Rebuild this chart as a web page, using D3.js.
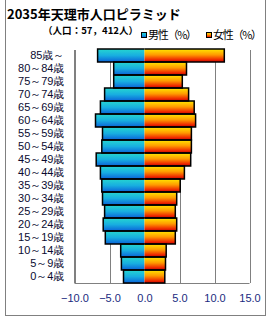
<!DOCTYPE html>
<html>
<head>
<meta charset="utf-8">
<script src="https://cdn.jsdelivr.net/npm/d3@7"></script>
<style>
  body { margin: 0; background: #fff; }
  svg { display: block; font-family: "Noto Sans CJK JP", sans-serif; }
</style>
</head>
<body>
<div id="chart"></div>
<script>
// age groups, top to bottom
var ageGroups = ["85歳～", "80～84歳", "75～79歳", "70～74歳", "65～69歳", "60～64歳",
  "55～59歳", "50～54歳", "45～49歳", "40～44歳", "35～39歳", "30～34歳",
  "25～29歳", "20～24歳", "15～19歳", "10～14歳", "5～9歳", "0～4歳"];
// share of each sex (%)
var maleValues = [6.7, 4.4, 4.4, 5.7, 6.3, 7.0, 6.0, 6.1, 6.9, 6.3, 6.1, 6.0, 5.7, 5.9, 5.6, 3.4, 3.3, 3.0];
var femaleValues = [11.4, 6.0, 5.4, 6.3, 7.1, 7.3, 6.7, 6.7, 6.6, 5.7, 5.1, 4.6, 4.4, 4.6, 4.4, 3.1, 3.0, 2.9];
var xTicks = [-10, -5, 0, 5, 10, 15];
var titleText = "2035年天理市人口ピラミッド";
var subTitleText = "（人口：57，412人）";
var legendLabels = ["男性（%）", "女性（%）"];

var width = 270, height = 320;
var plotLeft = 74.5, plotRight = 249.5, plotTop = 49, plotBottom = 283;

var svg = d3.select("#chart").append("svg")
  .attr("width", width)
  .attr("height", height);

// gradients
var defs = svg.append("defs");
function addGradient(id, stops) {
  var g = defs.append("linearGradient")
    .attr("id", id)
    .attr("x1", 0).attr("y1", 0).attr("x2", 0).attr("y2", 1);
  stops.forEach(function (s) {
    g.append("stop").attr("offset", s[0]).attr("stop-color", s[1]);
  });
}
addGradient("maleGrad", [[0, "#26d6d0"], [0.5, "#18aee0"], [1, "#0a62d8"]]);
addGradient("femaleGrad", [[0, "#ffe800"], [0.45, "#ff9a00"], [0.8, "#f03000"], [1, "#c80000"]]);

// outer frame
svg.append("rect")
  .attr("x", 5.5).attr("y", -1)
  .attr("width", 260).attr("height", 316.5)
  .attr("fill", "none")
  .attr("stroke", "#808080");

// scales
var x = d3.scaleLinear().domain([-10, 15]).range([plotLeft, plotRight]);
var y = d3.scaleBand().domain(ageGroups).range([plotTop, plotBottom]).padding(0);

// gridlines
svg.append("g")
  .selectAll("line")
  .data(xTicks)
  .enter()
  .append("line")
  .attr("x1", function (d) { return Math.round(x(d)) + 0.5; })
  .attr("x2", function (d) { return Math.round(x(d)) + 0.5; })
  .attr("y1", plotTop + 1)
  .attr("y2", plotBottom)
  .style("stroke", "#808080");
svg.append("line")
  .attr("x1", plotLeft).attr("x2", plotRight)
  .attr("y1", plotBottom + 0.5).attr("y2", plotBottom + 0.5)
  .style("stroke", "#808080");

// bars: fill first, then outline without the inner edge at 0
var x0 = x(0);
var bars = svg.append("g");
function drawBars(values, sign, grad) {
  bars.selectAll(null)
    .data(values)
    .enter()
    .append("rect")
    .attr("x", function (d) { return sign < 0 ? x(-d) : x0; })
    .attr("y", function (d, i) { return y(ageGroups[i]); })
    .attr("width", function (d) { return Math.abs(x(sign * d) - x0); })
    .attr("height", y.bandwidth())
    .attr("fill", "url(#" + grad + ")");
  bars.selectAll(null)
    .data(values)
    .enter()
    .append("path")
    .attr("d", function (d, i) {
      var p = d3.path();
      var yt = y(ageGroups[i]), yb = yt + y.bandwidth(), xe = x(sign * d);
      p.moveTo(x0, yt);
      p.lineTo(xe, yt);
      p.lineTo(xe, yb);
      p.lineTo(x0, yb);
      return p.toString();
    })
    .attr("fill", "none")
    .attr("stroke", "#000")
    .attr("stroke-width", 1.5);
}
drawBars(maleValues, -1, "maleGrad");
drawBars(femaleValues, 1, "femaleGrad");

// axes
var yAxis = d3.axisLeft(y).tickSize(0).tickPadding(10);
var yAxisGroup = svg.append("g")
  .attr("transform", "translate(" + plotLeft + ",0)")
  .call(yAxis);
yAxisGroup.select(".domain").remove();
yAxisGroup.selectAll("text")
  .style("font-size", "11px")
  .style("fill", "#0a0a30");
svg.append("line")
  .attr("x1", plotLeft).attr("x2", plotLeft)
  .attr("y1", plotTop + 1).attr("y2", plotBottom)
  .style("stroke", "#808080");

var xAxis = d3.axisBottom(x)
  .tickValues(xTicks)
  .tickFormat(d3.format(".1f"))
  .tickSize(0)
  .tickPadding(11);
var xAxisGroup = svg.append("g")
  .attr("transform", "translate(0," + plotBottom + ")")
  .call(xAxis);
xAxisGroup.select(".domain").remove();
xAxisGroup.selectAll("text")
  .style("font-size", "11px")
  .style("fill", "#1a2a80");

// title
svg.append("text")
  .attr("x", 7).attr("y", 19)
  .style("font-size", "13px")
  .style("font-weight", "bold")
  .text(titleText);
svg.append("text")
  .attr("x", 43).attr("y", 34)
  .attr("textLength", 95)
  .attr("lengthAdjust", "spacingAndGlyphs")
  .style("font-size", "9.5px")
  .style("font-weight", "bold")
  .text(subTitleText);

// legend
var legend = svg.append("g");
[["maleGrad", 141, legendLabels[0]], ["femaleGrad", 206, legendLabels[1]]].forEach(function (l) {
  legend.append("rect")
    .attr("x", l[1] + 0.5).attr("y", 32.5)
    .attr("width", 5).attr("height", 5)
    .attr("fill", "url(#" + l[0] + ")")
    .attr("stroke", "#000");
  legend.append("text")
    .attr("x", l[1] + 7).attr("y", 39)
    .attr("textLength", 49)
    .attr("lengthAdjust", "spacing")
    .style("font-size", "11px")
    .text(l[2]);
});
</script>
</body>
</html>
